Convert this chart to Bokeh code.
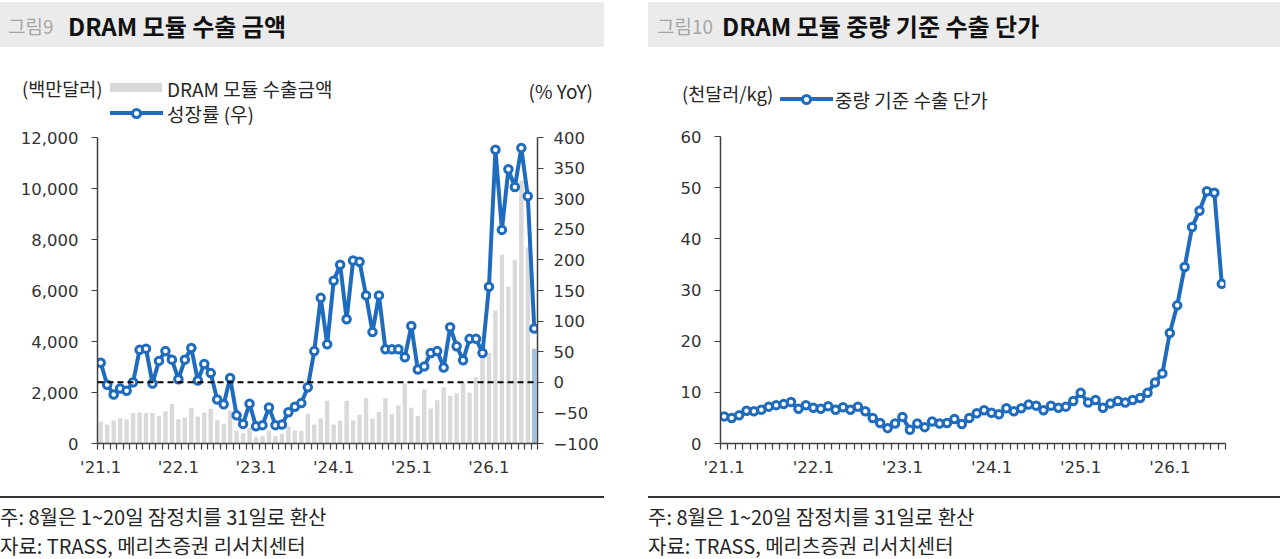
from bokeh.plotting import figure
from bokeh.models import (Range1d, LinearAxis, FixedTicker, NumeralTickFormatter, Span,
                          ColumnDataSource, Spacer, Div)
from bokeh.layouts import row, column
from bokeh.embed import file_html
from bokeh.resources import INLINE

# ---------------- data ----------------
months = [f"{y}.{m}" for y in range(21, 27) for m in range(1, 13)][:68]   # '21.1 .. '26.8
tick_months = ["21.1", "22.1", "23.1", "24.1", "25.1", "26.1"]
tick_labels = ["'21.1", "'22.1", "'23.1", "'24.1", "'25.1", "'26.1"]

# DRAM module export value (USD mn)
export_value = [865, 750, 905, 995, 945, 1195, 1220, 1195, 1195, 1085, 1255, 1555,
                950, 1020, 1400, 1060, 1220, 1360, 910, 775, 1280, 500, 405, 620,
                250, 290, 510, 290, 380, 680, 510, 500, 1165, 750, 980, 1680,
                750, 905, 1680, 905, 1130, 1770, 980, 1245, 1770, 1150, 1495, 2350,
                1400, 1080, 2120, 1370, 1700, 2200, 1870, 1975, 2370, 2000, 2600, 3450,
                3550, 5215, 7400, 6150, 7190, 10300, 7700, 3720]

# growth (% YoY, right axis)
growth_yoy = [32, -4, -20, -10, -14, 0, 53, 55, -2, 35, 51, 37,
              5, 37, 56, 3, 30, 15, -28, -36, 7, -54, -68, -35,
              -72, -70, -41, -70, -69, -49, -40, -34, -8, 51, 138, 62,
              166, 192, 103, 199, 197, 142, 82, 142, 54, 54, 54, 41,
              92, 21, 26, 48, 51, 24, 90, 59, 36, 71, 71, 48,
              156, 380, 249, 348, 319, 383, 304, 88]

# unit export price by weight (thousand USD / kg)
unit_price = [5.3, 5.0, 5.5, 6.4, 6.3, 6.6, 7.2, 7.5, 7.7, 8.1, 6.8, 7.5,
              7.0, 6.8, 7.3, 6.6, 7.1, 6.6, 7.2, 6.3, 5.0, 4.0, 3.0, 3.9,
              5.2, 2.7, 3.9, 3.2, 4.3, 3.9, 4.0, 4.8, 3.8, 5.0, 5.9, 6.5,
              6.0, 5.7, 6.9, 6.3, 6.9, 7.6, 7.4, 6.5, 7.4, 7.0, 7.2, 8.3,
              9.9, 8.0, 8.5, 7.0, 7.8, 8.3, 8.0, 8.5, 8.9, 9.9, 11.9, 13.7,
              21.6, 27.0, 34.5, 42.3, 45.5, 49.3, 49.0, 31.2]

left_ticks = list(range(0, 12001, 2000))
right_ticks = list(range(-100, 401, 50))
price_ticks = list(range(0, 61, 10))

# ---------------- style ----------------
FONT = "Noto Sans CJK KR"
NUMFONT = "DejaVu Sans"
BLUE = "#1f6cbf"
GREY = "#d9d9d9"
LIGHT_BLUE = "#9dc3e6"
AXC = "#404040"
TXT = "#262626"
HDR_BG = "#ebebeb"

xs = list(range(len(months)))
tick_pos = [months.index(m) for m in tick_months]
minor_pos = [i - 0.5 for i in range(len(months) + 1)]
bar_colors = [GREY] * (len(months) - 1) + [LIGHT_BLUE]


# ---------------- HTML helpers (titles, legends, notes) ----------------
def txt(left, cy, text, size, color=TXT, weight="normal", right=None):
    lh = round(size * 1.2)
    pos = f"left:{left}px;" if right is None else f"right:{right}px;"
    return (f'<div style="position:absolute;{pos}top:{cy - lh / 2:.1f}px;height:{lh}px;'
            f'line-height:{lh}px;font-family:\'{FONT}\';font-size:{size}px;color:{color};'
            f'font-weight:{weight};white-space:nowrap;">{text}</div>')


def box(left, top, w, h, color, extra=""):
    return (f'<div style="position:absolute;left:{left}px;top:{top}px;width:{w}px;'
            f'height:{h}px;background:{color};{extra}"></div>')


def marker_swatch(left, cy, w):
    parts = [box(left, cy - 2, w, 4, BLUE)]
    cx = left + w / 2
    parts.append(box(cx - 5.5, cy - 5.5, 11, 11, "white",
                     f"border:3px solid {BLUE};border-radius:50%;box-sizing:border-box;"))
    return "".join(parts)


def html_div(w, h, parts):
    inner = "".join(parts)
    return Div(text=f'<div style="position:relative;width:{w}px;height:{h}px;overflow:hidden;">'
                    f'{inner}</div>', width=w, height=h, margin=(0, 0, 0, 0))


def style_axis(ax):
    ax.axis_line_color = AXC
    ax.axis_line_width = 1.5
    ax.major_tick_line_color = AXC
    ax.major_tick_line_width = 1.2
    ax.minor_tick_line_color = AXC
    ax.minor_tick_line_width = 1.2
    ax.major_label_text_font = NUMFONT
    ax.major_label_text_font_size = "16.5px"
    ax.major_label_text_color = "#333333"


def style_y(ax, standoff):
    style_axis(ax)
    ax.major_tick_out = 6
    ax.major_tick_in = 0
    ax.minor_tick_out = 0
    ax.minor_tick_in = 0
    ax.major_label_standoff = standoff


def style_x(ax):
    style_axis(ax)
    ax.ticker = FixedTicker(ticks=tick_pos, minor_ticks=minor_pos)
    ax.major_label_overrides = {p: t for p, t in zip(tick_pos, tick_labels)}
    ax.major_tick_out = 0
    ax.major_tick_in = 0
    ax.minor_tick_out = 6
    ax.minor_tick_in = 0
    ax.major_label_standoff = 8


def clean(p):
    p.outline_line_color = None
    p.xgrid.visible = False
    p.ygrid.visible = False
    p.background_fill_color = None
    p.border_fill_color = None


# ================= LEFT PANEL =================
LW = 604
hdrL = html_div(LW, 48, [
    box(0, 2, LW, 45, HDR_BG),
    txt(8, 25, "그림9", 19, color="#a6a6a6"),
    txt(68, 25, "DRAM 모듈 수출 금액", 24, color="#111111", weight="bold"),
])
legL = html_div(LW, 77, [
    txt(22, 40, "(백만달러)", 18.5),
    box(110, 35, 52, 9, GREY),
    txt(167, 40, "DRAM 모듈 수출금액", 19),
    txt(0, 42, "(% YoY)", 19, right=11),
    marker_swatch(110, 65, 53),
    txt(167, 65, "성장률 (우)", 19),
])

srcL = ColumnDataSource(dict(x=xs, value=export_value, yoy=growth_yoy, color=bar_colors))
pL = figure(width=LW, height=365, x_range=Range1d(-0.5, len(months) - 0.5),
            y_range=Range1d(0, 12000), output_backend="svg", toolbar_location=None,
            min_border_left=97, min_border_right=67, min_border_top=12, min_border_bottom=47)
pL.extra_y_ranges = {"yoy": Range1d(-100, 400)}
clean(pL)

pL.vbar(x="x", top="value", bottom=0, width=0.68, fill_color="color", line_color=None, source=srcL)
pL.add_layout(Span(location=0, dimension="width", y_range_name="yoy", line_color="black",
                   line_width=2, line_dash="6 4"))
pL.line("x", "yoy", y_range_name="yoy", line_color=BLUE, line_width=4, source=srcL)
pL.scatter("x", "yoy", y_range_name="yoy", size=7.5, marker="circle", fill_color="white",
           line_color=BLUE, line_width=3, source=srcL)

ly = pL.yaxis[0]
ly.ticker = FixedTicker(ticks=left_ticks)
ly.formatter = NumeralTickFormatter(format="0,0")
style_y(ly, 13)
ry = LinearAxis(y_range_name="yoy", ticker=FixedTicker(ticks=right_ticks))
style_y(ry, 10)
pL.add_layout(ry, "right")
style_x(pL.xaxis[0])

noteL = html_div(LW, 69, [
    box(0, 6, LW, 1.5, "#333333"),
    txt(0, 27, "주: 8월은 1~20일 잠정치를 31일로 환산", 20),
    txt(0, 56, "자료: TRASS, 메리츠증권 리서치센터", 20),
])

# ================= RIGHT PANEL =================
RW = 632
hdrR = html_div(RW, 48, [
    box(0, 2, RW, 45, HDR_BG),
    txt(9, 25, "그림10", 19, color="#a6a6a6"),
    txt(74, 25, "DRAM 모듈 중량 기준 수출 단가", 24, color="#111111", weight="bold"),
])
legR = html_div(RW, 77, [
    txt(34, 45, "(천달러/kg)", 18.5),
    marker_swatch(132, 51, 53),
    txt(187, 51, "중량 기준 수출 단가", 19),
])

srcR = ColumnDataSource(dict(x=xs, price=unit_price))
pR = figure(width=RW, height=365, x_range=Range1d(-0.5, len(months) - 0.5),
            y_range=Range1d(0, 60), output_backend="svg", toolbar_location=None,
            min_border_left=72, min_border_right=55, min_border_top=11, min_border_bottom=47)
clean(pR)
pR.line("x", "price", line_color=BLUE, line_width=4, source=srcR)
pR.scatter("x", "price", size=7.5, marker="circle", fill_color="white",
           line_color=BLUE, line_width=3, source=srcR)
ly2 = pR.yaxis[0]
ly2.ticker = FixedTicker(ticks=price_ticks)
style_y(ly2, 13)
style_x(pR.xaxis[0])

noteR = html_div(RW, 69, [
    box(0, 6, RW, 1.5, "#333333"),
    txt(0, 27, "주: 8월은 1~20일 잠정치를 31일로 환산", 20),
    txt(0, 56, "자료: TRASS, 메리츠증권 리서치센터", 20),
])

layout = row(column(hdrL, legL, pL, noteL),
             Spacer(width=44, height=559),
             column(hdrR, legR, pR, noteR))

open("out.html", "w").write(file_html(layout, INLINE))
